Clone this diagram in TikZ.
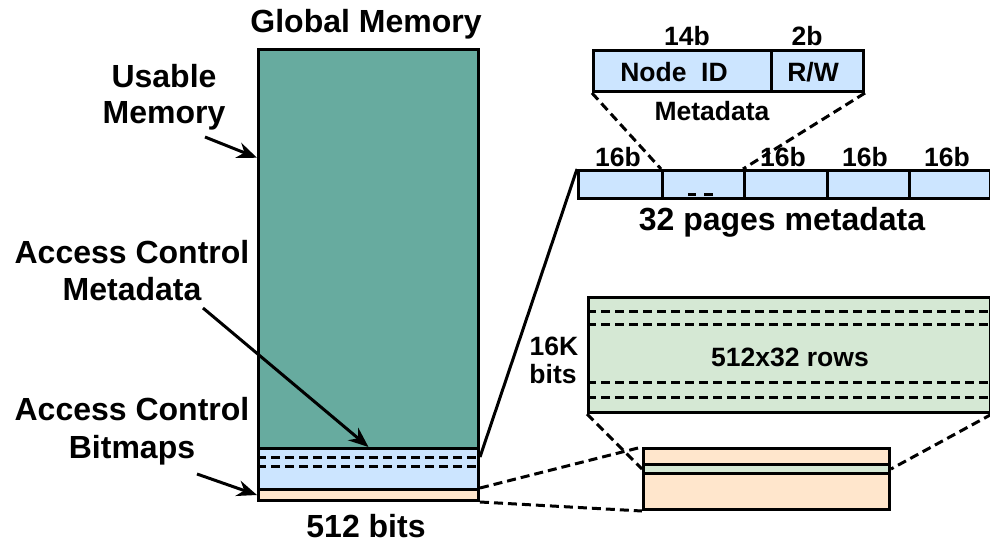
\documentclass[tikz,border=0pt]{standalone}
\usepackage{fontspec}
\setmainfont{Liberation Sans}
\usetikzlibrary{arrows.meta,calc}

\definecolor{memgreen}{HTML}{67AB9F}
\definecolor{lblue}{HTML}{CCE5FF}
\definecolor{lgreen}{HTML}{D5E8D4}
\definecolor{peach}{HTML}{FFE6CC}

\newcommand{\bigtxt}{\fontsize{32}{38}\selectfont\bfseries}
\newcommand{\smalltxt}{\fontsize{26.5}{31}\selectfont\bfseries}

\begin{document}
\begin{tikzpicture}[x=1pt,y=-1pt,
  box/.style={draw=black,line width=3pt,inner sep=0pt,anchor=north west},
  dsh/.style={line width=3pt,dash pattern=on 9pt off 5pt},
  solidline/.style={line width=3pt},
  arr/.style={line width=3pt,-{Stealth[length=20pt,width=16pt]}},
  big/.style={font=\bigtxt,inner sep=0pt,anchor=base,align=center},
  small/.style={font=\smalltxt,inner sep=0pt,anchor=base,align=center}]

\useasboundingbox (0,0) rectangle (990,544);

% ---- global memory column ----
\node[box,fill=memgreen,minimum width=220pt,minimum height=399pt] (usable) at (257,48) {};
\node[box,fill=lblue,minimum width=220pt,minimum height=41pt] (meta) at (257,447) {};
\node[box,fill=peach,minimum width=220pt,minimum height=11pt] (bmp) at (257,488) {};
\draw[dsh] (257,457) -- (477,457);
\draw[dsh] (257,466) -- (477,466);

\node[big] (title) at (366,32) {Global Memory};
\node[big] (bits512) at (366,537) {512 bits};

% ---- labels on the left ----
\node[big] (lu1) at (164,87) {Usable};
\node[big] (lu2) at (164,123) {Memory};
\node[big] (lm1) at (132,263) {Access Control};
\node[big] (lm2) at (132,300) {Metadata};
\node[big] (lb1) at (132,420) {Access Control};
\node[big] (lb2) at (132,458) {Bitmaps};

\coordinate (su) at (205,137);
\coordinate (sm) at (203,308);
\coordinate (sb) at (197,474);
\coordinate (tu) at ($(usable.north west)!0.273!(usable.south west)$);
\draw[arr] (su) -- (tu);
\draw[arr] (sm) -- (meta.north);
\draw[arr] (sb) -- (bmp.west);

% ---- per-page metadata entry ----
\node[box,fill=lblue,minimum width=178pt,minimum height=41pt] (nodeid) at (592,49) {};
\node[box,fill=lblue,minimum width=92pt,minimum height=41pt] (rw) at (770,49) {};
\node[small] (tnid) at (674,81) {Node\ \ ID};
\node[small] (trw) at (813,81) {R/W};
\node[small] (b14) at (687,45) {14b};
\node[small] (b2) at (807,45) {2b};
\node[small] (tmeta) at (712,120) {Metadata};

% ---- 32 pages metadata row ----
\node[box,fill=lblue,minimum width=84pt,minimum height=28pt] (c1) at (577,169) {};
\node[box,fill=lblue,minimum width=82pt,minimum height=28pt] (c2) at (661,169) {};
\node[box,fill=lblue,minimum width=83pt,minimum height=28pt] (c3) at (743,169) {};
\node[box,fill=lblue,minimum width=82pt,minimum height=28pt] (c4) at (826,169) {};
\node[box,fill=lblue,minimum width=81pt,minimum height=28pt] (c5) at (908,169) {};
\fill (688,192.5) rectangle (696,196);
\fill (704,192.5) rectangle (713,196);
\node[small] (l1) at (618,166) {16b};
\node[small] (l3) at (783,166) {16b};
\node[small] (l4) at (865,166) {16b};
\node[small] (l5) at (947,166) {16b};
\node[big] (t32) at (782,230) {32 pages metadata};

\draw[dsh] (nodeid.south west) -- (c2.north west);
\draw[dsh] (rw.south east) -- (c3.north west);
\coordinate (mtap) at ($(meta.north east)+(0,10)$);
\draw[solidline] (mtap) -- (c1.north west);

% ---- bitmap rows ----
\node[box,fill=lgreen,minimum width=402pt,minimum height=115pt] (rows) at (587,296) {};
\draw[dsh] (587,311) -- (990,311);
\draw[dsh] (587,324) -- (990,324);
\draw[dsh] (587,382) -- (990,382);
\draw[dsh] (587,397) -- (990,397);
\node[small] (t512) at (790,366) {512x32 rows};
\node[small] (t16k) at (554,355) {16K};
\node[small] (tbits) at (553,383) {bits};

% ---- one bitmap ----
\node[box,fill=peach,minimum width=246pt,minimum height=61pt] (bm) at (642,447) {};
\node[box,fill=lgreen,minimum width=246pt,minimum height=9pt] (stripe) at (642,463) {};

\draw[dsh] (rows.south west) -- (stripe.west);
\draw[dsh] (rows.south east) -- (stripe.east);
\draw[dsh] (bmp.north east) -- (bm.north west);
\draw[dsh] (bmp.south east) -- (bm.south west);
\end{tikzpicture}
\end{document}
